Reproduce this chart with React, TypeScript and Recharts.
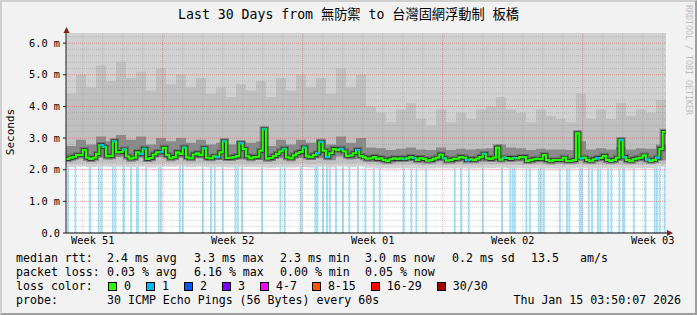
import React from "react";
import {
  Area,
  CartesianGrid,
  ComposedChart,
  Line,
  ReferenceArea,
  ReferenceLine,
  XAxis,
  YAxis,
} from "recharts";

const MONO = '"DejaVu Sans Mono", "Noto Sans CJK TC", monospace';

const title = "Last 30 Days from 無防禦 to 台灣固網浮動制 板橋";

// median rtt (ms), one value every 4 hours, oldest first
const medianRtt = [
  2.34, 2.38, 2.41, 2.46, 2.46, 2.62, 2.38, 2.34, 2.38, 2.5,
  2.78, 2.72, 2.42, 2.44, 2.9, 2.55, 2.56, 2.64, 2.42, 2.35,
  2.38, 2.55, 2.5, 2.66, 2.34, 2.37, 2.48, 2.55, 2.56, 2.69,
  2.46, 2.36, 2.4, 2.55, 2.5, 2.7, 2.39, 2.36, 2.48, 2.52,
  2.46, 2.68, 2.38, 2.36, 2.42, 2.4, 2.55, 2.9, 2.37, 2.38,
  2.4, 2.43, 2.84, 2.65, 2.42, 2.36, 2.4, 2.41, 2.6, 3.28,
  2.35, 2.37, 2.43, 2.5, 2.58, 2.66, 2.39, 2.36, 2.45, 2.52,
  2.56, 2.7, 2.42, 2.4, 2.46, 2.52, 2.88, 2.6, 2.4, 2.52,
  2.66, 2.62, 2.66, 2.58, 2.44, 2.45, 2.52, 2.62, 2.43, 2.39,
  2.35, 2.36, 2.4, 2.34, 2.36, 2.31, 2.28, 2.33, 2.36, 2.34,
  2.36, 2.34, 2.36, 2.4, 2.37, 2.31, 2.37, 2.34, 2.29, 2.3,
  2.35, 2.38, 2.48, 2.36, 2.29, 2.3, 2.34, 2.35, 2.4, 2.38,
  2.3, 2.33, 2.31, 2.35, 2.4, 2.5, 2.36, 2.34, 2.38, 2.7,
  2.32, 2.38, 2.37, 2.34, 2.37, 2.36, 2.4, 2.4, 2.28, 2.3,
  2.33, 2.35, 2.33, 2.46, 2.3, 2.27, 2.3, 2.3, 2.31, 2.38,
  2.28, 2.28, 2.3, 3.15, 2.36, 2.38, 2.3, 2.28, 2.33, 2.36,
  2.37, 2.44, 2.31, 2.28, 2.31, 2.38, 2.94, 2.4, 2.3, 2.28,
  2.33, 2.36, 2.38, 2.45, 2.32, 2.28, 2.31, 2.38, 2.66, 3.2,
  3.2,
];

// samples of medianRtt that lost 1 of 30 pings (drawn blue)
const lossSamples = [
  10, 11, 14, 17, 22, 23, 28, 35, 41, 45, 47, 52, 59, 65, 71, 75, 76, 78, 82,
  87, 101, 104, 113, 120, 125, 131, 134, 154, 159, 166, 167, 174, 177,
];

// smoke: spread of the 30 pings, one summary every 12 hours (ms)
const smokeMin = [
  2.08, 2.1, 2.08, 2.1, 2.09, 2.1, 2.08, 2.1, 2.07, 2.1,
  2.09, 2.1, 2.08, 2.09, 2.07, 2.08, 2.07, 2.08, 2.08, 2.07,
  2.06, 2.08, 2.07, 2.08, 2.07, 2.09, 2.07, 2.1, 2.08, 2.1,
  2.06, 2.05, 2.04, 2.05, 2.05, 2.04, 2.04, 2.05, 2.04, 2.05,
  2.04, 2.05, 2.05, 2.06, 2.05, 2.05, 2.04, 2.05, 2.04, 2.04,
  2.04, 2.06, 2.04, 2.05, 2.04, 2.05, 2.04, 2.05, 2.05, 2.1,
  2.5,
];
const smokeP10 = [
  2.2, 2.22, 2.2, 2.22, 2.21, 2.23, 2.2, 2.22, 2.19, 2.22,
  2.21, 2.22, 2.2, 2.21, 2.19, 2.2, 2.19, 2.2, 2.2, 2.19,
  2.18, 2.2, 2.19, 2.21, 2.19, 2.21, 2.19, 2.23, 2.2, 2.22,
  2.17, 2.16, 2.15, 2.16, 2.16, 2.15, 2.15, 2.16, 2.15, 2.16,
  2.15, 2.16, 2.16, 2.18, 2.16, 2.16, 2.15, 2.16, 2.15, 2.15,
  2.15, 2.17, 2.15, 2.16, 2.15, 2.16, 2.15, 2.16, 2.16, 2.2,
  2.6,
];
const smokeP25 = [
  2.3, 2.36, 2.31, 2.38, 2.33, 2.4, 2.32, 2.38, 2.29, 2.4,
  2.34, 2.38, 2.3, 2.36, 2.3, 2.31, 2.29, 2.32, 2.31, 2.31,
  2.28, 2.36, 2.3, 2.37, 2.31, 2.36, 2.3, 2.42, 2.32, 2.42,
  2.27, 2.26, 2.23, 2.26, 2.27, 2.24, 2.23, 2.28, 2.23, 2.26,
  2.24, 2.26, 2.27, 2.3, 2.27, 2.27, 2.23, 2.26, 2.24, 2.24,
  2.23, 2.3, 2.24, 2.27, 2.24, 2.28, 2.24, 2.27, 2.25, 2.3,
  2.8,
];
const smokeP75 = [
  2.75, 2.95, 2.8, 3.05, 2.9, 3.1, 2.95, 3.05, 2.8, 3.0,
  2.9, 3.0, 2.85, 2.95, 2.8, 2.85, 2.8, 2.9, 2.85, 2.9,
  2.75, 2.95, 2.8, 2.95, 2.85, 2.95, 2.8, 3.05, 2.85, 3.0,
  2.7, 2.68, 2.62, 2.66, 2.7, 2.64, 2.62, 2.7, 2.62, 2.66,
  2.64, 2.66, 2.68, 2.8, 2.7, 2.68, 2.62, 2.66, 2.64, 2.64,
  2.62, 2.9, 2.64, 2.68, 2.64, 2.72, 2.64, 2.68, 2.66, 2.8,
  3.3,
];
const smokeP90 = [
  4.4, 5.0, 4.6, 5.3, 4.8, 5.4, 4.9, 5.1, 4.5, 5.2,
  4.7, 5.0, 4.6, 4.9, 4.4, 4.6, 4.3, 4.7, 4.5, 4.8,
  4.3, 4.9, 4.5, 5.0, 4.6, 4.9, 4.4, 5.2, 4.6, 5.0,
  4.0, 3.8, 3.5, 3.9, 4.1, 3.6, 3.4, 3.9, 3.5, 3.8,
  3.6, 3.9, 4.0, 4.3, 3.9, 3.8, 3.5, 3.9, 3.7, 3.6,
  3.5, 4.4, 3.6, 3.9, 3.6, 4.1, 3.7, 3.9, 3.8, 4.2,
  5.0,
];
// the slowest ping is off the top of the graph everywhere
const smokeCeiling = 8;

// loss bars: centre (days since start of graph) and width (hours)
const lossBarDays = [
  0.1, 0.47, 1.2, 1.64, 1.77, 2.34, 2.47, 2.89, 3.25, 3.57, 4.0, 4.64, 4.75,
  5.69, 5.84, 6.84, 7.25, 7.44, 7.84, 8.47, 8.59, 8.8, 9.8, 10.72, 10.94,
  11.75, 12.52, 12.85, 13.05, 13.19, 13.5, 13.85, 14.17, 14.6, 14.97, 15.39,
  15.69, 16.89, 17.27, 17.52, 18.0, 19.44, 19.75, 20.14, 20.84, 21.8, 22.22,
  22.34, 22.44, 23.02, 23.19, 23.64, 23.75, 23.89, 24.69, 25.05, 25.17, 25.74,
  26.14, 26.3, 26.6, 26.72, 27.1, 27.27, 27.67, 27.89, 28.39, 28.97, 29.44,
  29.55, 29.69, 29.94,
];
const lossBarHours = [
  2.4, 2.4, 3, 2.4, 2.4, 2.4, 2.4, 3, 2.4, 3.6, 2.4, 2.4, 2.4,
  2.4, 2.4, 2.4, 2.4, 2.4, 2.4, 2.4, 2.4, 2.4, 2.4, 2.4, 2.4,
  3.6, 4.8, 2.4, 2.4, 2.4, 2.4, 2.4, 2.4, 2.4, 2.4, 2.4,
  2.4, 2.4, 2.4, 2.4, 2.4, 2.4, 2.4, 2.4, 2.4, 2.4, 2.4,
  2.4, 2.4, 2.4, 2.4, 2.4, 2.4, 2.4, 2.4, 2.4, 2.4, 4.8,
  2.4, 2.4, 2.4, 2.4, 2.4, 2.4, 2.4, 3.6, 2.4, 2.4, 2.4,
  2.4, 2.4, 2.4,
];

const yTicks = [0, 1, 2, 3, 4, 5, 6];
const weekLabels = ["Week 51", "Week 52", "Week 01", "Week 02", "Week 03"];
const weekLabelDays = [1.34, 8.34, 15.34, 22.34, 29.34];
const firstMidnight = 0.84;
const firstWeekStart = 4.84;

const rttStats = ["2.4 ms avg", "3.3 ms max", "2.3 ms min", "3.0 ms now", "0.2 ms sd", "13.5", "am/s"];
const lossStats = ["0.03 % avg", "6.16 % max", "0.00 % min", "0.05 % now"];
const lossColorLabels = ["0", "1", "2", "3", "4-7", "8-15", "16-29", "30/30"];
const lossPalette = ["#26ff00", "#00b8ff", "#0059ff", "#7e00ff", "#ff00ff", "#ff5500", "#ff0000", "#a00000"];
const probeText = "30 ICMP Echo Pings (56 Bytes) every 60s";
const stamp = "Thu Jan 15 03:50:07 2026";

const Y_TOP = 6.32;
const statX = [107, 194, 280, 365, 452, 531, 580];

const smokeRows = smokeMin.map((lo, k) => ({
  t: k / 2,
  outer: [lo, smokeCeiling],
  mid: [smokeP10[k], smokeP90[k]],
  inner: [smokeP25[k], smokeP75[k]],
}));

const medianRows = medianRtt.map((m, i) => ({
  t: i / 6,
  median: m,
  loss: lossSamples.includes(i),
}));

const minorY: number[] = [];
for (let n = 1; n < 32; n++) if (n % 5 !== 0) minorY.push(n / 5);
const dayLines: number[] = [];
for (let d = firstMidnight; d < 30; d += 1) dayLines.push(d);
const weekLines = dayLines.filter((d) => Math.round(d - firstWeekStart) % 7 === 0 && d >= firstWeekStart);
const minorX = dayLines.filter((d) => !weekLines.includes(d));

const GRID = "rgba(143,143,143,0.4)";
const MGRID = "rgba(222,79,79,0.5)";

function LossDot(props: any) {
  const { cx, cy, payload } = props;
  if (!payload || !payload.loss || cx == null || cy == null) return <g />;
  return <rect x={cx} y={cy - 1.25} width={3.4} height={2.5} fill="#00b8ff" />;
}

const text = (extra: React.CSSProperties): React.CSSProperties => ({
  position: "absolute",
  whiteSpace: "pre",
  fontFamily: MONO,
  ...extra,
});

export default function App() {
  return (
    <div
      style={{
        position: "absolute",
        left: 0,
        top: 0,
        width: 697,
        height: 315,
        background: "#f2f2f2",
        overflow: "hidden",
        color: "#000",
      }}
    >
      <ComposedChart
        width={697}
        height={315}
        data={smokeRows}
        margin={{ top: 33, right: 31, bottom: 62, left: 6 }}
      >
        <CartesianGrid fill="#ffffff" horizontal={false} vertical={false} />
        <XAxis
          type="number"
          dataKey="t"
          domain={[0, 30]}
          allowDataOverflow
          ticks={weekLabelDays}
          interval={0}
          tickFormatter={(v) => weekLabels[weekLabelDays.indexOf(v)] ?? ""}
          tickLine={false}
          tickSize={0}
          tickMargin={4}
          height={20}
          axisLine={{ stroke: "#000" }}
          tick={{ fontSize: 10.3, fontFamily: MONO, fill: "#000" }}
        />
        <YAxis
          type="number"
          domain={[0, Y_TOP]}
          allowDataOverflow
          ticks={yTicks}
          interval={0}
          tickFormatter={(v) => (v === 0 ? "0.0" : `${Number(v).toFixed(1)} m`)}
          width={60}
          tickSize={3}
          tickMargin={3}
          axisLine={{ stroke: "#1f1f1f" }}
          tickLine={{ stroke: "#1f1f1f" }}
          tick={{ fontSize: 10.3, fontFamily: MONO, fill: "#000" }}
        />

        {lossBarDays.map((d, i) => (
          <ReferenceArea
            key={`loss${i}`}
            x1={d - lossBarHours[i] / 48}
            x2={d + lossBarHours[i] / 48}
            y1={0}
            y2={Y_TOP}
            fill="#a4e0f6"
            fillOpacity={1}
            stroke="none"
            ifOverflow="hidden"
            zIndex={50}
          />
        ))}

        <Area dataKey="outer" type="stepAfter" fill="#d1d1d1" fillOpacity={1} stroke="none" isAnimationActive={false} />
        <Area dataKey="mid" type="stepAfter" fill="#c0c0c0" fillOpacity={1} stroke="none" isAnimationActive={false} />
        <Area dataKey="inner" type="stepAfter" fill="#8a8a8a" fillOpacity={1} stroke="none" isAnimationActive={false} />

        {minorY.map((v) => (
          <ReferenceLine key={`hy${v}`} y={v} stroke={GRID} strokeDasharray="1 1" zIndex={300} />
        ))}
        {minorX.map((v) => (
          <ReferenceLine key={`hx${v}`} x={v} stroke={GRID} strokeDasharray="1 1" zIndex={300} />
        ))}
        {yTicks.slice(1).map((v) => (
          <ReferenceLine key={`my${v}`} y={v} stroke={MGRID} strokeDasharray="1 1" zIndex={310} />
        ))}
        {weekLines.map((v) => (
          <ReferenceLine key={`mx${v}`} x={v} stroke={MGRID} strokeDasharray="1 1" zIndex={310} />
        ))}

        <Line data={medianRows} dataKey="median" type="stepAfter" stroke="#5a5a5a" strokeWidth={6} strokeOpacity={0.6} dot={false} activeDot={false} isAnimationActive={false} />
        <Line data={medianRows} dataKey="median" type="stepAfter" stroke="#202020" strokeWidth={3.4} dot={false} activeDot={false} isAnimationActive={false} />
        <Line
          data={medianRows}
          dataKey="median"
          type="stepAfter"
          stroke="#26ff00"
          strokeWidth={2.2}
          dot={(p: any) => <LossDot key={`d${p.index}`} {...p} />}
          activeDot={false}
          isAnimationActive={false}
        />
      </ComposedChart>

      {/* axis arrows */}
      <svg width={697} height={315} style={{ position: "absolute", left: 0, top: 0, pointerEvents: "none" }}>
        <line x1={66.5} y1={33} x2={66.5} y2={29} stroke="#1f1f1f" />
        <polygon points="63.5,33 69.5,33 66.5,27" fill="#7f1f1f" />
        <line x1={666} y1={233} x2={668} y2={233} stroke="#000" />
        <polygon points="667,230 667,236 673,233" fill="#7f1f1f" />
      </svg>

      <div style={text({ left: 0, top: 8, width: 697, textAlign: "center", fontSize: 13.2, lineHeight: "14px" })}>
        {title}
      </div>
      <div
        style={text({
          left: 684,
          top: 5,
          fontSize: 8.3,
          lineHeight: "9px",
          color: "#bdbdbd",
          writingMode: "vertical-rl",
        })}
      >
        RRDTOOL / TOBI OETIKER
      </div>
      <div
        style={text({
          left: -19,
          top: 125,
          width: 60,
          textAlign: "center",
          fontSize: 11,
          lineHeight: "14px",
          transform: "rotate(-90deg)",
        })}
      >
        Seconds
      </div>

      <div style={text({ left: 16, top: 251, fontSize: 11.6, lineHeight: "14px" })}>median rtt:</div>
      {rttStats.map((s, i) => (
        <div key={s} style={text({ left: statX[i], top: 251, fontSize: 11.6, lineHeight: "14px" })}>
          {s}
        </div>
      ))}
      <div style={text({ left: 16, top: 265, fontSize: 11.6, lineHeight: "14px" })}>packet loss:</div>
      {lossStats.map((s, i) => (
        <div key={s} style={text({ left: statX[i], top: 265, fontSize: 11.6, lineHeight: "14px" })}>
          {s}
        </div>
      ))}
      <div style={text({ left: 16, top: 279, fontSize: 11.6, lineHeight: "14px" })}>loss color:</div>
      <div
        style={text({
          left: 108,
          top: 279,
          fontSize: 11.6,
          lineHeight: "14px",
          display: "flex",
          alignItems: "center",
        })}
      >
        {lossColorLabels.map((l, i) => (
          <span key={l} style={{ display: "flex", alignItems: "center", marginRight: 15 }}>
            <span
              style={{
                display: "inline-block",
                width: 9,
                height: 9,
                boxSizing: "border-box",
                border: "1px solid #000",
                background: lossPalette[i],
                marginRight: 7,
              }}
            />
            {l}
          </span>
        ))}
      </div>
      <div style={text({ left: 16, top: 293, fontSize: 11.6, lineHeight: "14px" })}>probe:</div>
      <div style={text({ left: 107, top: 293, fontSize: 11.6, lineHeight: "14px" })}>{probeText}</div>
      <div style={text({ right: 16, top: 293, fontSize: 11.6, lineHeight: "14px" })}>{stamp}</div>

      {/* frame */}
      <div
        style={{
          position: "absolute",
          left: 0,
          top: 0,
          width: 697,
          height: 315,
          boxSizing: "border-box",
          borderTop: "2px solid #cfcfcf",
          borderLeft: "2px solid #cfcfcf",
          borderBottom: "2px solid #9e9e9e",
          borderRight: "2px solid #9e9e9e",
          pointerEvents: "none",
        }}
      />
    </div>
  );
}
